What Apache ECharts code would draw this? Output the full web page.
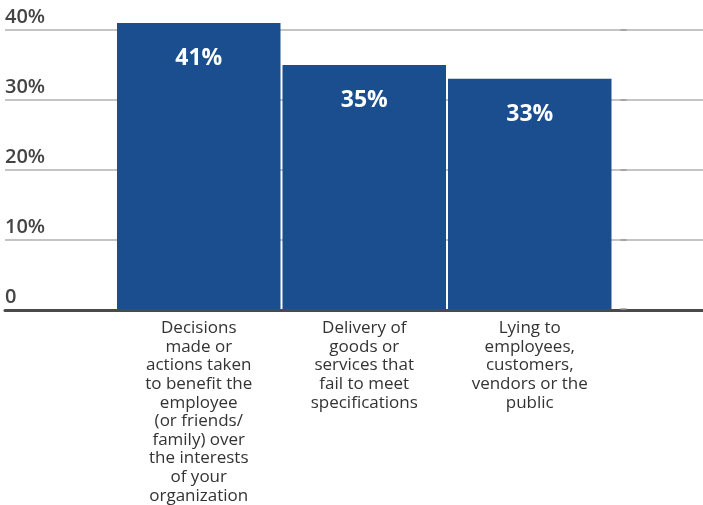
<!DOCTYPE html>
<html><head><meta charset="utf-8">
<script src="https://cdn.jsdelivr.net/npm/echarts@6/dist/echarts.min.js"></script>
<style>html,body{margin:0;padding:0;background:#fff}#c{width:703px;height:505px}</style>
</head><body><div id="c"></div>
<script>
const categories = [
  "Decisions\nmade or\nactions taken\nto benefit the\nemployee\n(or friends/\nfamily) over\nthe interests\nof your\norganization",
  "Delivery of\ngoods or\nservices that\nfail to meet\nspecifications",
  "Lying to\nemployees,\ncustomers,\nvendors or the\npublic"
];
const values = [41, 35, 33];
const yTicks = [0, 10, 20, 30, 40];

const font = "'Open Sans', Roboto, sans-serif";
const chart = echarts.init(document.getElementById('c'), null, {renderer: 'canvas'});
chart.setOption({
  animation: false,
  grid: [
    {left: 5, right: 0, top: 30, bottom: 195},
    {left: 116, right: 90.5, top: 30, bottom: 195}
  ],
  xAxis: [
    {gridIndex: 0, type: 'value', min: 0, max: 1, show: true,
     axisLine: {show: true, lineStyle: {color: '#4a4a4a', width: 3}},
     axisTick: {show: false}, axisLabel: {show: false}, splitLine: {show: false}},
    {gridIndex: 1, type: 'category', data: categories,
     axisLine: {show: false}, axisTick: {show: false},
     axisLabel: {interval: 0, margin: 10, color: '#333', fontSize: 17, lineHeight: 18.6, fontFamily: font, align: 'center'}}
  ],
  yAxis: [
    {gridIndex: 0, type: 'value', min: yTicks[0], max: yTicks[yTicks.length - 1], interval: 10,
     axisLine: {show: false}, axisTick: {show: false},
     splitLine: {show: true, lineStyle: {color: '#b0b0b0', width: 1.5}},
     axisLabel: {inside: true, margin: 0, align: 'left', verticalAlign: 'bottom', padding: [0, 0, 3, 0],
       color: '#444', fontSize: 20, fontWeight: 600, fontFamily: font,
       formatter: v => v === 0 ? '0' : v + '%'}},
    {gridIndex: 1, type: 'value', min: yTicks[0], max: yTicks[yTicks.length - 1], interval: 10,
     position: 'right', offset: 8,
     axisLine: {show: false}, axisLabel: {show: false}, splitLine: {show: false},
     axisTick: {show: true, length: 6, lineStyle: {color: '#999', width: 1.5}}}
  ],
  series: [{
    type: 'bar', xAxisIndex: 1, yAxisIndex: 1, data: values, clip: false,
    barCategoryGap: '1.2%',
    itemStyle: {color: '#1b4e8e'},
    label: {show: true, position: 'insideTop', distance: 24, color: '#fff', fontSize: 23, fontWeight: 'bold',
      fontFamily: font, formatter: p => p.value + '%'}
  }]
});
</script></body></html>
